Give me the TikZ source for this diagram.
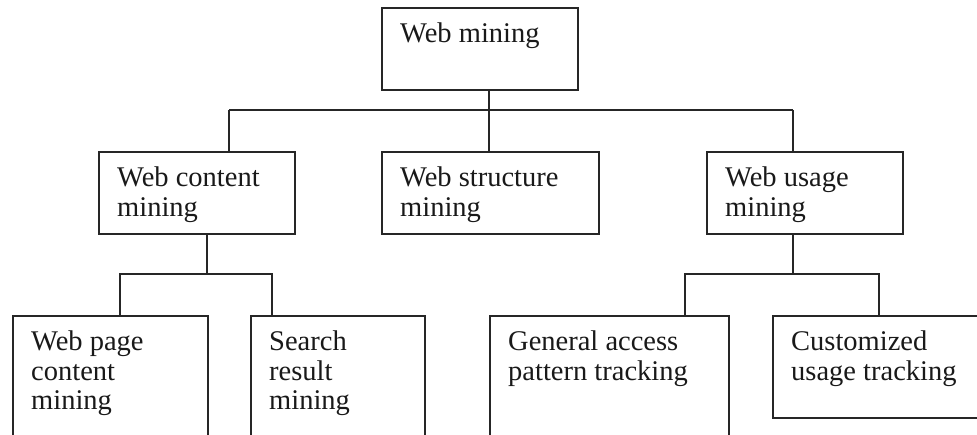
\documentclass[tikz,border=0pt]{standalone}
\usepackage{fontspec}
\setmainfont{Liberation Serif}
\usetikzlibrary{positioning}

\tikzset{
  box/.style={draw=black!85, line width=1.6pt, anchor=north west, inner sep=0pt},
  boxtext/.style={anchor=north west, align=left, inner xsep=19pt, inner ysep=16pt,
    font=\fontsize{28.5}{29.5}\selectfont, text=black!90},
  link/.style={draw=black!85, line width=1.6pt},
}

\begin{document}
\begin{tikzpicture}[x=1pt,y=-1pt]
\useasboundingbox (0,0) rectangle (977,435);
\clip (0,0) rectangle (977,435);
% top and middle row
\node [box, minimum width=196pt, minimum height=82pt] (web) at (381,7) [label={[boxtext]north west:Web mining}] {};
\node [box, minimum width=196pt, minimum height=82pt] (content) at (98,151) [label={[boxtext]north west:Web content\\mining}] {};
\node [box, minimum width=217pt, minimum height=82pt] (struct) at (381,151) [label={[boxtext]north west:Web structure\\mining}] {};
\node [box, minimum width=196pt, minimum height=82pt] (usage) at (706,151) [label={[boxtext]north west:Web usage\\mining}] {};
% bottom row
\node [box, minimum width=195pt, minimum height=150pt] (page) at (12,315) [label={[boxtext]north west:Web page\\content\\mining}] {};
\node [box, minimum width=174pt, minimum height=150pt] (search) at (250,315) [label={[boxtext]north west:Search\\result\\mining}] {};
\node [box, minimum width=239pt, minimum height=150pt] (general) at (489,315) [label={[boxtext]north west:General access\\pattern tracking}] {};
\node [box, minimum width=230pt, minimum height=102pt] (custom) at (772,315) [label={[boxtext]north west:Customized\\usage tracking}] {};
% connectors
\coordinate (top) at (489,110);
\coordinate (busL) at (229,110);
\coordinate (busR) at (793,110);
\draw[link] (busL) -- (busR);
\draw[link] (top |- web.south) -- (top) -- (top |- struct.north);
\draw[link] (busL) -- (busL |- content.north);
\draw[link] (busR) -- (busR |- usage.north);
\coordinate (cbus) at (207,274);
\coordinate (cbusL) at (120,274);
\coordinate (cbusR) at (272,274);
\draw[link] (cbus |- content.south) -- (cbus);
\draw[link] (cbusL |- page.north) -- (cbusL) -- (cbusR) -- (cbusR |- search.north);
\coordinate (ubus) at (793,274);
\coordinate (ubusL) at (685,274);
\coordinate (ubusR) at (879,274);
\draw[link] (ubus |- usage.south) -- (ubus);
\draw[link] (ubusL |- general.north) -- (ubusL) -- (ubusR) -- (ubusR |- custom.north);
\end{tikzpicture}
\end{document}
